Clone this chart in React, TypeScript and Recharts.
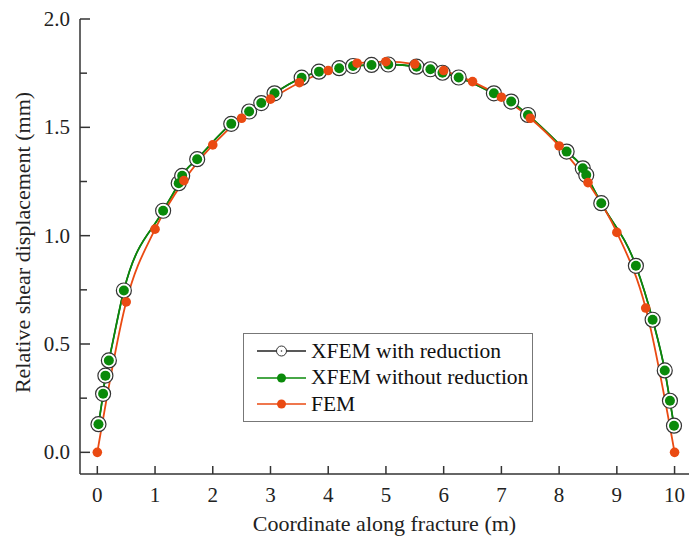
import React from 'react';
import { LineChart, Line, XAxis, YAxis, Legend, Label } from 'recharts';

// XFEM nodes (both XFEM runs share the same positions)
const xfemX = [0.02, 0.1, 0.14, 0.2, 0.46, 1.14, 1.41, 1.47, 1.73, 2.32, 2.63, 2.84, 3.07, 3.54, 3.84, 4.19, 4.43, 4.75, 5.04, 5.53, 5.77, 5.98, 6.26, 6.87, 7.17, 7.46, 8.13, 8.41, 8.47, 8.73, 9.33, 9.62, 9.83, 9.92, 9.99];
const xfemWithReduction = [0.13, 0.27, 0.354, 0.424, 0.747, 1.115, 1.242, 1.276, 1.353, 1.516, 1.573, 1.612, 1.657, 1.729, 1.757, 1.773, 1.783, 1.788, 1.79, 1.78, 1.768, 1.752, 1.73, 1.657, 1.619, 1.557, 1.388, 1.311, 1.28, 1.15, 0.861, 0.612, 0.378, 0.238, 0.123];
const xfemWithoutReduction = [0.13, 0.27, 0.354, 0.424, 0.747, 1.115, 1.242, 1.276, 1.353, 1.516, 1.573, 1.612, 1.657, 1.729, 1.757, 1.773, 1.783, 1.788, 1.79, 1.78, 1.768, 1.752, 1.73, 1.657, 1.619, 1.557, 1.388, 1.311, 1.28, 1.15, 0.861, 0.612, 0.378, 0.238, 0.123];

const femX = [0, 0.5, 1, 1.5, 2, 2.5, 3, 3.5, 4, 4.5, 5, 5.5, 6, 6.5, 7, 7.5, 8, 8.5, 9, 9.5, 10];
const femY = [0, 0.694, 1.03, 1.254, 1.419, 1.542, 1.63, 1.706, 1.762, 1.796, 1.803, 1.792, 1.762, 1.711, 1.639, 1.542, 1.414, 1.245, 1.015, 0.666, 0];

const xTicks = [0, 1, 2, 3, 4, 5, 6, 7, 8, 9, 10];
const yTicks = [0, 0.25, 0.5, 0.75, 1, 1.25, 1.5, 1.75, 2];

const FONT = "'Liberation Serif', serif";
const AXIS = '#333';
const GREEN = '#0a8a0a';
const ORANGE = '#ea4a12';

const withRed = xfemX.map((x, i) => ({ x, y: xfemWithReduction[i] }));
const withoutRed = xfemX.map((x, i) => ({ x, y: xfemWithoutReduction[i] }));
const fem = femX.map((x, i) => ({ x, y: femY[i] }));

const legendItems = [
  { name: 'XFEM with reduction', color: '#222', open: true },
  { name: 'XFEM without reduction', color: GREEN, open: false },
  { name: 'FEM', color: ORANGE, open: false },
];

const XTick = ({ x, y, payload }: any) => (
  <g>
    <line x1={x} x2={x} y1={y} y2={y - 8} stroke={AXIS} strokeWidth={1.5} />
    <text x={x} y={y + 28} textAnchor="middle" fontFamily="Liberation Serif" fontSize={21} fill="#222">
      {payload.value}
    </text>
  </g>
);

const YTick = ({ x, y, payload }: any) => {
  const major = Math.abs(payload.value * 2 - Math.round(payload.value * 2)) < 1e-6;
  return (
    <g>
      <line x1={x} x2={x + (major ? 10 : 7)} y1={y} y2={y} stroke={AXIS} strokeWidth={1.5} />
      {major && (
        <text x={x - 10} y={y + 7} textAnchor="end" fontFamily="Liberation Serif" fontSize={21} fill="#222">
          {payload.value.toFixed(1)}
        </text>
      )}
    </g>
  );
};

const LegendBox = () => (
  <div style={{ border: '1px solid #777', background: '#fff', width: 288, padding: '4px 0 3px 0', fontFamily: FONT, fontSize: 21.5, color: '#111' }}>
    {legendItems.map((it) => (
      <div key={it.name} style={{ display: 'flex', alignItems: 'center', height: 26.5, whiteSpace: 'nowrap' }}>
        <svg width={66} height={20} style={{ flex: 'none' }}>
          <line x1={13} x2={62} y1={10} y2={10} stroke={it.color} strokeWidth={1.5} />
          {it.open ? (
            <g>
              <circle cx={37.5} cy={10} r={5} fill="#fff" stroke="#333" strokeWidth={1} />
              <circle cx={37.5} cy={10} r={0.8} fill="#333" />
            </g>
          ) : (
            <circle cx={37.5} cy={10} r={4.5} fill={it.color} />
          )}
        </svg>
        <span style={{ marginLeft: 1, fontFamily: FONT }}>{it.name}</span>
      </div>
    ))}
  </div>
);

export default function App() {
  return (
    <div style={{ position: 'absolute', left: 0, top: 0, width: 689, height: 539, background: '#fff' }}>
      <LineChart width={689} height={539} margin={{ top: 19, right: 0, bottom: 0, left: 0 }}>
        <XAxis
          type="number"
          dataKey="x"
          domain={[-0.3, 10.25]}
          ticks={xTicks}
          allowDataOverflow
          height={65}
          tickSize={0}
          tickMargin={0}
          tickLine={false}
          tick={<XTick />}
          axisLine={{ stroke: AXIS, strokeWidth: 1.5 }}
        >
          <Label value="Coordinate along fracture (m)" position="insideBottom" offset={8} fontFamily="Liberation Serif" fontSize={22} fill="#222" />
        </XAxis>
        <XAxis xAxisId="top" orientation="top" type="number" domain={[-0.3, 10.25]} height={0} tick={false} tickLine={false} axisLine={{ stroke: AXIS, strokeWidth: 1.5 }} />
        <YAxis
          type="number"
          domain={[-0.1, 2]}
          ticks={yTicks}
          allowDataOverflow
          width={80}
          tickSize={0}
          tickMargin={0}
          tickLine={false}
          tick={<YTick />}
          axisLine={{ stroke: AXIS, strokeWidth: 1.5 }}
        >
          <Label value="Relative shear displacement (mm)" angle={-90} position="insideLeft" offset={22} dy={-4} fontFamily="Liberation Serif" fontSize={22} fill="#222" style={{ textAnchor: 'middle' }} />
        </YAxis>
        <Line data={withRed} dataKey="y" name="XFEM with reduction" type="monotone" stroke="#222" strokeWidth={1.5} dot={{ r: 7.5, fill: '#fff', stroke: '#333', strokeWidth: 1.2 }} isAnimationActive={false} />
        <Line data={withoutRed} dataKey="y" name="XFEM without reduction" type="monotone" stroke={GREEN} strokeWidth={1.8} dot={{ r: 5, fill: GREEN, stroke: GREEN, strokeWidth: 0 }} isAnimationActive={false} />
        <Line data={fem} dataKey="y" name="FEM" type="monotone" stroke={ORANGE} strokeWidth={1.8} dot={{ r: 4.8, fill: ORANGE, stroke: ORANGE, strokeWidth: 0 }} isAnimationActive={false} />
        <Legend layout="vertical" align="center" verticalAlign="middle" content={<LegendBox />} wrapperStyle={{ position: 'absolute', left: 243, top: 333, width: 'auto' }} />
      </LineChart>
    </div>
  );
}
